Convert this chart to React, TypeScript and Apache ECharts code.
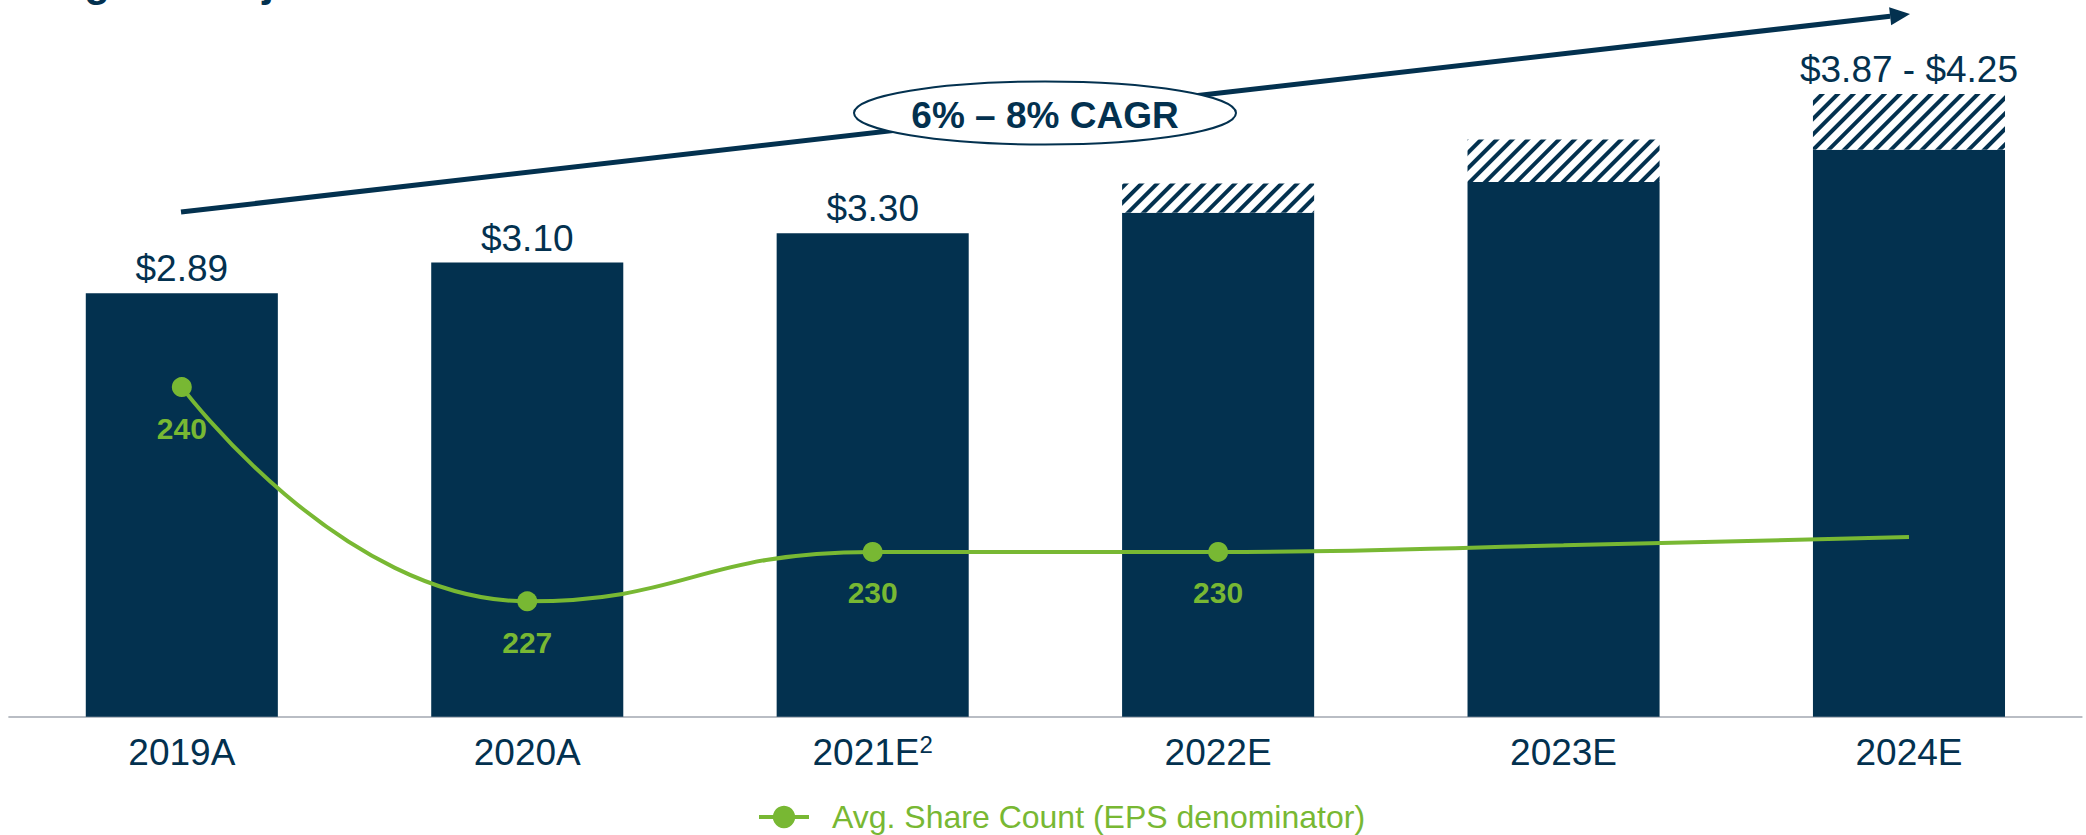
import React, { useEffect, useRef } from "react";
import * as echarts from "echarts";

const categories = ["2019A", "2020A", "2021E", "2022E", "2023E", "2024E"];
const footnotes = ["", "", "2", "", "", ""];
const epsBase = [2.89, 3.1, 3.3, 3.44, 3.65, 3.87];
const epsRange = [null, null, null, 0.2, 0.29, 0.38];
const epsLabels = ["$2.89", "$3.10", "$3.30", "", "", "$3.87 - $4.25"];
const shareCount = [240, 227, 230, 230, 230.4, 230.9];
const shareLabels = ["240", "227", "230", "230", "", ""];
const shareMarkers = [true, true, true, true, false, false];
const legendName = "Avg. Share Count (EPS denominator)";
const titleText = "Targeted Adjusted EPS Growth";
const cagrText = "6% \u2013 8% CAGR";

const NAVY = "#03314F";
const GREEN = "#78B833";
const FONT = "'Liberation Sans', Arial, sans-serif";

export default function App() {
  const ref = useRef<HTMLDivElement>(null);

  useEffect(() => {
    if (!ref.current) return;
    const chart = echarts.init(ref.current, null, { renderer: "svg" });

    // arrow geometry (annotation)
    const sx = 181, sy = 212, tx = 1910, ty = 14;
    const len = Math.hypot(tx - sx, ty - sy);
    const dx = (tx - sx) / len, dy = (ty - sy) / len;
    const headL = 20, headW = 9;
    const bx = tx - headL * dx, by = ty - headL * dy;
    const px = -dy, py = dx;

    const option: any = {
      animation: false,
      backgroundColor: "#fff",
      textStyle: { fontFamily: FONT },
      grid: { left: 9.1, right: 4.3, top: 57.5, bottom: 118.3 },
      legend: {
        data: [legendName],
        left: 752,
        top: 796,
        itemWidth: 50,
        itemHeight: 28,
        lineStyle: { width: 4 },
        textStyle: { color: GREEN, fontSize: 32, fontFamily: FONT, padding: [0, 0, 0, 18] },
      },
      xAxis: {
        type: "category",
        data: categories,
        axisLine: { show: true, lineStyle: { color: "#B9BDC4", width: 2 } },
        axisTick: { show: false },
        axisLabel: {
          color: NAVY,
          fontSize: 37,
          lineHeight: 40,
          margin: 16,
          fontFamily: FONT,
          formatter: (v: string, i: number) =>
            footnotes[i] ? `${v}{sup|${footnotes[i]}}` : v,
          rich: {
            sup: {
              fontSize: 24,
              lineHeight: 26,
              verticalAlign: "top",
              color: NAVY,
              fontFamily: FONT,
            },
          },
        },
      },
      yAxis: [
        { type: "value", min: 0, max: 4.5, show: false, splitLine: { show: false } },
        { type: "value", min: 220, max: 260, show: false, splitLine: { show: false } },
      ],
      series: [
        {
          name: "EPS",
          type: "bar",
          stack: "eps",
          barWidth: "55.6%",
          itemStyle: { color: NAVY },
          data: epsBase.map((v, i) => ({
            value: v,
            label: { show: epsRange[i] == null && !!epsLabels[i] },
          })),
          label: {
            position: "top",
            distance: 6,
            color: NAVY,
            fontSize: 37,
            lineHeight: 37,
            fontFamily: FONT,
            formatter: (p: any) => epsLabels[p.dataIndex],
          },
          z: 2,
        },
        {
          name: "EPS range",
          type: "bar",
          stack: "eps",
          barWidth: "55.6%",
          itemStyle: {
            color: "#ffffff",
            decal: {
              symbol: "rect",
              symbolSize: 1,
              color: NAVY,
              dashArrayX: [1, 0],
              dashArrayY: [4, 7],
              rotation: -Math.PI / 4,
            },
          },
          data: epsRange.map((v, i) => ({
            value: v,
            label: { show: v != null && !!epsLabels[i] },
          })),
          label: {
            position: "top",
            distance: 6,
            color: NAVY,
            fontSize: 37,
            lineHeight: 37,
            fontFamily: FONT,
            formatter: (p: any) => epsLabels[p.dataIndex],
          },
          z: 2,
        },
        {
          name: legendName,
          type: "line",
          yAxisIndex: 1,
          smooth: true,
          symbol: "circle",
          symbolSize: 20,
          itemStyle: { color: GREEN },
          lineStyle: { color: GREEN, width: 4 },
          data: shareCount.map((v, i) => ({
            value: v,
            symbol: shareMarkers[i] ? "circle" : "none",
            label: { show: !!shareLabels[i] },
          })),
          label: {
            position: "bottom",
            distance: 16,
            color: GREEN,
            fontSize: 30,
            lineHeight: 30,
            fontWeight: "bold",
            fontFamily: FONT,
            formatter: (p: any) => shareLabels[p.dataIndex],
          },
          z: 5,
        },
      ],
      graphic: [
        {
          type: "text",
          x: 22,
          y: -19,
          style: {
            text: titleText,
            fill: NAVY,
            font: `bold 42px ${FONT}`,
            verticalAlign: "middle",
          },
          z: 10,
        },
        {
          type: "line",
          shape: { x1: sx, y1: sy, x2: bx, y2: by },
          style: { stroke: NAVY, lineWidth: 5 },
          z: 10,
        },
        {
          type: "polygon",
          shape: {
            points: [
              [tx, ty],
              [bx + headW * px, by + headW * py],
              [bx - headW * px, by - headW * py],
            ],
          },
          style: { fill: NAVY },
          z: 10,
        },
        {
          type: "ellipse",
          shape: { cx: 1045, cy: 113, rx: 191, ry: 31.5 },
          style: { fill: "#fff", stroke: NAVY, lineWidth: 2 },
          z: 11,
        },
        {
          type: "text",
          x: 1045,
          y: 115,
          style: {
            text: cagrText,
            fill: NAVY,
            font: `bold 37px ${FONT}`,
            align: "center",
            verticalAlign: "middle",
          },
          z: 12,
        },
      ],
    };
    chart.setOption(option);
    return () => chart.dispose();
  }, []);

  return (
    <div
      ref={ref}
      style={{ position: "fixed", left: 0, top: 0, width: 2086, height: 835, background: "#fff" }}
    />
  );
}
